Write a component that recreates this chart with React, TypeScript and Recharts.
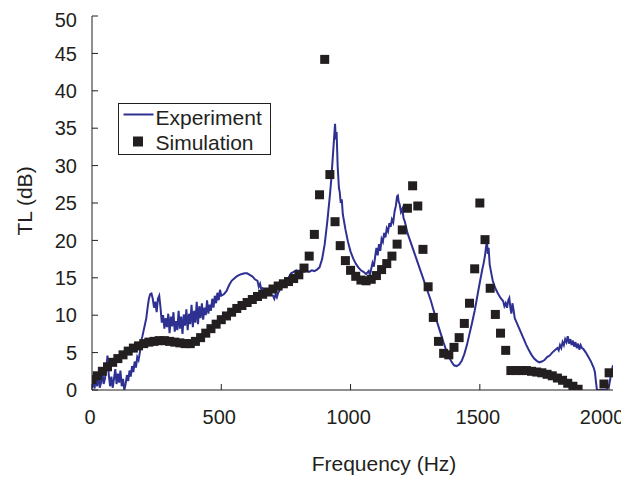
import React from 'react';
import { ComposedChart, Line, Scatter, XAxis, YAxis, Legend } from 'recharts';

// Experiment: frequency (Hz) and TL (dB)
const expFreq = [
  0, 5, 10, 15, 20, 25, 30, 35, 40, 45, 50, 55, 60, 65, 70, 75, 80, 85, 90, 95,
  100, 105, 110, 115, 120, 125, 130, 135, 140, 145, 150, 155, 160, 165, 170, 175, 180, 185, 190, 195,
  200, 205, 210, 215, 220, 225, 230, 235, 240, 245, 250, 255, 260, 265, 270, 275, 280, 285, 290, 295,
  300, 305, 310, 315, 320, 325, 330, 335, 340, 345, 350, 355, 360, 365, 370, 375, 380, 385, 390, 395,
  400, 405, 410, 415, 420, 425, 430, 435, 440, 445, 450, 455, 460, 465, 470, 475, 480, 485, 490, 495,
  500, 510, 520, 530, 540, 550, 560, 570, 580, 590, 600, 610, 620, 630, 640, 645, 650, 655, 660, 670,
  680, 690, 700, 705, 710, 715, 720, 730, 740, 750, 760, 770, 780, 790, 800, 810, 820, 830, 840, 850,
  860, 870, 880, 890, 900, 910, 920, 925, 930, 935, 940, 943, 946, 950, 955, 958, 962, 966, 970, 980,
  990, 1000, 1010, 1020, 1030, 1040, 1050, 1060, 1070, 1075, 1080, 1085, 1090, 1095, 1100, 1105, 1110, 1115, 1120, 1125,
  1130, 1135, 1140, 1145, 1150, 1155, 1160, 1165, 1170, 1175, 1180, 1183, 1186, 1190, 1195, 1200, 1205, 1210, 1220, 1230,
  1240, 1250, 1260, 1270, 1280, 1290, 1300, 1310, 1320, 1330, 1340, 1350, 1360, 1370, 1380, 1390, 1400, 1410, 1420, 1430,
  1440, 1450, 1460, 1470, 1480, 1490, 1500, 1510, 1515, 1520, 1525, 1528, 1531, 1534, 1538, 1545, 1550, 1560, 1570, 1580,
  1590, 1595, 1600, 1605, 1610, 1614, 1618, 1622, 1626, 1630, 1635, 1640, 1650, 1660, 1670, 1680, 1690, 1700, 1710, 1720,
  1730, 1740, 1750, 1760, 1770, 1780, 1790, 1800, 1805, 1810, 1815, 1820, 1825, 1830, 1835, 1840, 1845, 1850, 1855, 1860,
  1865, 1870, 1875, 1880, 1885, 1890, 1895, 1900, 1910, 1920, 1930, 1940, 1945, 1950, 1953, 1990, 2000, 2005, 2010, 2015,
];
const expTL = [
  0.3, 1.5, 0.2, 1.8, 0.5, 2.2, 0.3, 1.0, 2.5, 0.8, 1.5, 3.0, 4.6, 2.0, 0.5, 1.8, 0.3, 1.5, 2.8, 0.8,
  2.2, 1.0, 2.6, 0.5, 1.5, 0.0, 0.8, 2.0, 1.2, 2.6, 1.8, 3.2, 2.4, 3.8, 3.0, 4.4, 4.0, 5.0, 6.5, 7.2,
  8.0, 8.8, 9.6, 11.0, 12.2, 12.8, 12.9, 12.2, 11.0, 11.8, 10.4, 12.2, 12.6, 11.0, 9.0, 10.0, 8.2, 9.6, 8.4, 10.2,
  7.6, 9.8, 8.5, 10.4, 7.8, 9.2, 8.0, 10.6, 8.2, 9.8, 7.5, 10.1, 8.6, 10.8, 8.0, 10.2, 8.8, 11.4, 8.4, 10.6,
  9.0, 11.8, 8.8, 11.2, 9.6, 11.6, 9.4, 11.0, 10.0, 12.0, 10.2, 11.4, 10.6, 12.2, 11.0, 12.6, 11.6, 13.0, 12.0, 13.4,
  12.6, 12.8, 13.2, 14.0, 14.6, 14.9, 15.2, 15.4, 15.5, 15.6, 15.6, 15.4, 15.2, 14.8, 14.6, 13.8, 14.2, 13.4, 13.6, 13.3,
  13.0, 12.8, 12.6, 12.2, 12.8, 12.4, 13.0, 13.6, 14.0, 14.6, 15.0, 15.6, 15.8, 16.0, 15.9, 16.1, 15.8, 16.0, 15.8, 16.0,
  15.9, 16.1, 16.4, 17.5, 19.5, 22.5, 26.0, 28.0, 30.5, 33.0, 35.6, 33.5, 34.5, 30.0, 27.0, 26.5, 25.0, 25.5, 23.5, 21.5,
  19.8, 18.5, 17.6, 16.9, 16.4, 16.0, 15.8, 15.5, 15.9, 15.4, 16.2, 17.0, 16.5, 17.8, 19.0, 18.0, 19.5, 18.6, 20.2, 19.8,
  21.0, 20.4, 21.6, 21.2, 22.3, 21.8, 22.8, 22.4, 23.8, 24.6, 25.9, 26.0, 25.2, 24.8, 23.8, 24.2, 23.0, 22.5, 21.0, 20.0,
  19.0, 18.0, 17.0, 16.0, 15.0, 14.0, 13.0, 12.0, 10.8, 9.6, 8.5, 7.4, 6.3, 5.3, 4.5, 3.8, 3.3, 3.2, 3.4, 3.9,
  4.8, 6.0, 7.5, 9.0, 10.6, 12.5, 14.4, 16.2, 17.0, 18.0, 19.4, 19.6, 18.2, 19.0, 16.8, 15.5, 14.6, 13.6, 12.9, 12.3,
  11.9, 11.2, 11.6, 11.0, 12.0, 12.3, 11.0, 10.2, 11.6, 10.8, 9.6, 9.2, 8.4, 7.6, 6.8, 6.0, 5.3, 4.7, 4.2, 3.9,
  3.7, 3.8, 4.0, 4.4, 4.6, 5.0, 5.3, 5.6, 5.3, 6.0, 5.6, 6.4, 6.0, 6.8, 6.4, 7.2, 6.2, 6.8, 6.0, 6.6,
  5.8, 6.4, 5.6, 6.2, 5.4, 6.0, 5.6, 5.5, 5.0, 4.4, 3.8, 3.0, 2.4, 0.8, 0.0, 0.0, 0.6, 1.6, 2.6, 3.3,
];

// Simulation: frequency (Hz) and TL (dB)
const simFreq = [
  0, 20, 40, 60, 80, 100, 120, 140, 160, 180, 200, 220, 240, 260, 280, 300, 320, 340, 360, 380,
  400, 420, 440, 460, 480, 500, 520, 540, 560, 580, 600, 620, 640, 660, 680, 700, 720, 740, 760, 780,
  800, 820, 840, 860, 880, 900, 920, 940, 960, 980, 1000, 1020, 1040, 1060, 1080, 1100, 1120, 1140, 1160, 1180,
  1200, 1220, 1240, 1260, 1280, 1300, 1320, 1340, 1360, 1380, 1400, 1420, 1440, 1460, 1480, 1500, 1520, 1540, 1560, 1580,
  1600, 1620, 1640, 1660, 1680, 1700, 1720, 1740, 1760, 1780, 1800, 1820, 1840, 1860, 1880, 1980, 2000,
];
const simTL = [
  1.4, 1.9, 2.5, 3.1, 3.7, 4.2, 4.7, 5.2, 5.6, 5.9, 6.2, 6.4, 6.5, 6.6, 6.6, 6.5, 6.4, 6.3, 6.2, 6.2,
  6.5, 7.0, 7.6, 8.2, 8.8, 9.4, 9.9, 10.4, 10.9, 11.3, 11.7, 12.1, 12.5, 12.8, 13.1, 13.5, 13.9, 14.2, 14.5, 14.9,
  15.4, 16.3, 17.9, 20.8, 26.1, 44.2, 28.8, 22.5, 19.3, 17.3, 16.0, 15.2, 14.7, 14.6, 14.8, 15.3, 16.1, 16.9, 17.9, 19.5,
  21.4, 24.3, 27.3, 24.6, 18.8, 13.8, 9.7, 6.5, 4.9, 4.7, 5.7, 7.0, 8.9, 11.6, 16.2, 25.0, 20.1, 13.6, 10.1, 7.6,
  5.3, 2.6, 2.6, 2.6, 2.6, 2.5, 2.4, 2.3, 2.1, 1.9, 1.6, 1.3, 0.9, 0.5, 0.1, 0.8, 2.3,
];

const xTicks = [0, 500, 1000, 1500, 2000];
const yTicks = [0, 5, 10, 15, 20, 25, 30, 35, 40, 45, 50];

const expData = expFreq.map((f, i) => ({ f, tl: expTL[i] }));
const simData = simFreq.map((f, i) => ({ f, tl: simTL[i] }));

const FONT = '"Liberation Sans", Arial, sans-serif';
const INK = '#231f20';
const BLUE = '#2e3192';

const SquareShape = (props: any) => {
  const { cx, cy } = props;
  if (cx == null || cy == null) return null;
  return <rect x={cx - 4.5} y={cy - 4.5} width={9} height={9} fill={INK} />;
};

const XTick = (props: any) => {
  const { x, y, payload } = props;
  const shift = payload.value === 2000 ? -7 : -2;
  return (
    <text x={x + shift} y={y} dy="0.71em" textAnchor="middle" fontSize={20} fontFamily={FONT} fill={INK}>
      {payload.value}
    </text>
  );
};

const LegendBox = () => (
  <svg width={153} height={53} style={{ display: 'block' }}>
    <rect x={0.5} y={0.5} width={152} height={51} fill="#fff" stroke={INK} strokeWidth={1} />
    <line x1={5.5} y1={11.5} x2={35.5} y2={11.5} stroke={BLUE} strokeWidth={2} />
    <text x={37.5} y={21.5} fontSize={21} fontFamily={FONT} fill={INK}>Experiment</text>
    <rect x={15} y={33.5} width={10} height={10} fill={INK} />
    <text x={37.5} y={47} fontSize={21} fontFamily={FONT} fill={INK}>Simulation</text>
  </svg>
);

const YLabel = () => (
  <text x={24} y={193} transform="rotate(-90 24 193)" textAnchor="middle" fontSize={21} fontFamily={FONT} fill={INK}>
    TL (dB)
  </text>
);

const XLabel = () => (
  <text x={376} y={463} textAnchor="middle" fontSize={21} fontFamily={FONT} fill={INK}>
    Frequency (Hz)
  </text>
);

export default function App() {
  return (
    <ComposedChart width={621} height={470} margin={{ top: 8, right: 16, bottom: 0, left: 0 }}>
      <XAxis
        type="number"
        dataKey="f"
        domain={[0, 2015]}
        ticks={xTicks}
        allowDataOverflow
        height={88}
        tickSize={-6}
        tickMargin={26}
        stroke={INK}
        tick={<XTick />}
        label={<XLabel />}
      />
      <YAxis
        type="number"
        domain={[0, 50]}
        ticks={yTicks}
        allowDataOverflow
        width={84}
        tickSize={-6}
        tickMargin={21}
        stroke={INK}
        tick={{ fill: INK, fontSize: 20, fontFamily: FONT }}
        label={<YLabel />}
      />
      <Line
        data={expData}
        dataKey="tl"
        type="linear"
        stroke={BLUE}
        strokeWidth={2}
        dot={false}
        activeDot={false}
        isAnimationActive={false}
      />
      <Scatter data={simData} dataKey="tl" shape={<SquareShape />} isAnimationActive={false} />
      <Legend
        layout="horizontal"
        align="center"
        verticalAlign="middle"
        wrapperStyle={{ left: 110, top: 95, width: 153, height: 53 }}
        content={<LegendBox />}
      />
    </ComposedChart>
  );
}
